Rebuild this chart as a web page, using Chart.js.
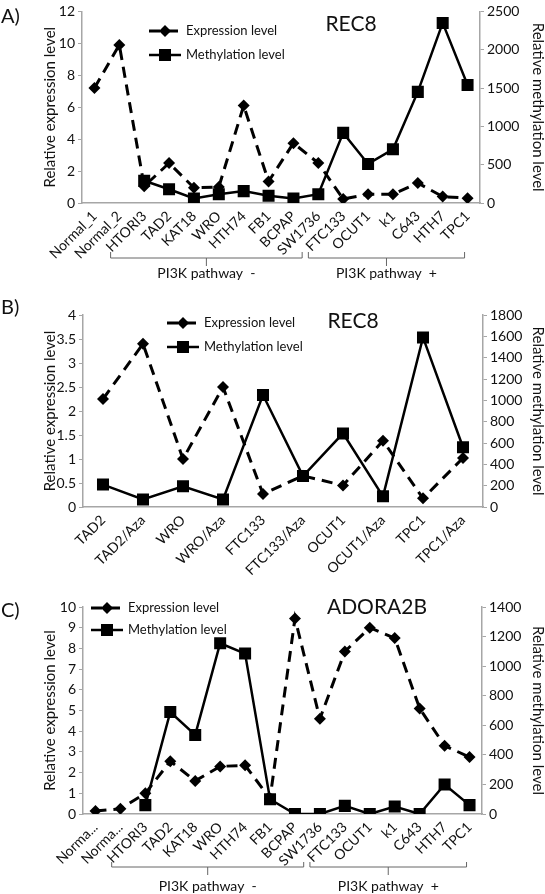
<!DOCTYPE html>
<html>
<head>
<meta charset="utf-8">
<script src="https://cdn.jsdelivr.net/npm/chart.js@4.4.1/dist/chart.umd.min.js"></script>
<style>
  html, body { margin: 0; padding: 0; background: #fff; }
  #fig { position: relative; width: 545px; height: 894px; font-family: Lato, "Open Sans", sans-serif; color: #111; }
  .panel { position: absolute; left: 0; }
  .tag { position: absolute; left: 1px; font-size: 20px; line-height: 20px; }
</style>
</head>
<body>
<div id="fig">
  <canvas id="chartA" class="panel" width="545" height="290" style="top:0px"></canvas>
  <canvas id="chartB" class="panel" width="545" height="295" style="top:290px"></canvas>
  <canvas id="chartC" class="panel" width="545" height="309" style="top:585px"></canvas>
  <div class="tag" style="top:5px">A)</div>
  <div class="tag" style="top:296px">B)</div>
  <div class="tag" style="top:599px">C)</div>
</div>
<script>
const FONT = 'Lato, "Open Sans", sans-serif';
const AXIS = '#a6a6a6';
const INK = '#111';

// cell lines used in panels A and C
const cellLines = ['Normal_1', 'Normal_2', 'HTORI3', 'TAD2', 'KAT18', 'WRO', 'HTH74', 'FB1', 'BCPAP',
  'SW1736', 'FTC133', 'OCUT1', 'k1', 'C643', 'HTH7', 'TPC1'];
// panel B: untreated / 5-Aza treated
const azaLines = ['TAD2', 'TAD2/Aza', 'WRO', 'WRO/Aza', 'FTC133', 'FTC133/Aza', 'OCUT1', 'OCUT1/Aza', 'TPC1', 'TPC1/Aza'];

// A) REC8
const expA = [7.2, 9.9, 1.05, 2.5, 0.95, 1.0, 6.1, 1.35, 3.75, 2.5, 0.25, 0.55, 0.55, 1.25, 0.4, 0.3];
const methA = [null, null, 290, 180, 60, 115, 155, 95, 60, 115, 915, 510, 700, 1450, 2350, 1540];
// B) REC8 with Aza
const expB = [2.25, 3.4, 1.0, 2.5, 0.27, 0.65, 0.45, 1.38, 0.18, 1.02];
const methB = [210, 70, 195, 70, 1050, 290, 690, 100, 1590, 560];
// C) ADORA2B
const expC = [0.15, 0.25, 1.0, 2.55, 1.6, 2.3, 2.35, 0.75, 9.45, 4.6, 7.85, 9.0, 8.5, 5.1, 3.3, 2.75];
const methC = [null, null, 60, 690, 535, 1155, 1085, 100, 0, 0, 55, 0, 50, 0, 200, 60];

// axis ranges: [min, max, step]
const expAxisA = [0, 12, 2], methAxisA = [0, 2500, 500];
const expAxisB = [0, 4, 0.5], methAxisB = [0, 1800, 200];
const expAxisC = [0, 10, 1], methAxisC = [0, 1400, 200];

// pathway brackets under the cell line labels (in category units)
const pathwayGroups = [
  { from: 0.65, to: 8.35, text: 'PI3K pathway  -' },
  { from: 8.6, to: 14.88, text: 'PI3K pathway  +' }
];

const decor = {
  id: 'decor',
  afterDraw(chart, args, o) {
    const ctx = chart.ctx;
    const area = chart.chartArea;
    ctx.save();
    ctx.fillStyle = INK;
    ctx.textBaseline = 'middle';
    ctx.font = `21px ${FONT}`;
    ctx.textAlign = 'center';
    ctx.fillText(o.title, o.titleX, o.titleY);

    chart.data.datasets.forEach((ds, i) => {
      const y = o.legendY + i * o.legendGap;
      const x0 = o.legendX, x1 = o.legendX + 32;
      ctx.strokeStyle = ds.borderColor;
      ctx.lineWidth = ds.borderWidth;
      ctx.setLineDash(ds.borderDash || []);
      ctx.beginPath();
      ctx.moveTo(x0, y);
      ctx.lineTo(x1, y);
      ctx.stroke();
      ctx.setLineDash([]);
      ctx.fillStyle = ds.backgroundColor;
      Chart.helpers.drawPoint(ctx, { pointStyle: ds.pointStyle, radius: ds.pointRadius, borderWidth: 0 }, (x0 + x1) / 2, y);
      ctx.fillStyle = INK;
      ctx.font = `13px ${FONT}`;
      ctx.textAlign = 'left';
      ctx.fillText(ds.label, x1 + 5, y);
    });

    if (o.groups) {
      const xs = chart.scales.x;
      const b = area.bottom;
      ctx.strokeStyle = '#666';
      ctx.lineWidth = 1;
      o.groups.forEach(g => {
        const l = xs.getPixelForValue(g.from), r = xs.getPixelForValue(g.to);
        const m = (l + r) / 2;
        ctx.beginPath();
        ctx.moveTo(l, b + o.hook);
        ctx.lineTo(l, b + o.line);
        ctx.lineTo(r, b + o.line);
        ctx.lineTo(r, b + o.hook);
        ctx.moveTo(m, b + o.line);
        ctx.lineTo(m, b + o.tick);
        ctx.stroke();
        ctx.font = `14px ${FONT}`;
        ctx.textAlign = 'center';
        ctx.fillText(g.text, m, b + o.text);
      });
    }
    ctx.restore();
  }
};

const plain = v => String(v);

function makeChart(id, labels, exp, meth, expAxis, methAxis, lay, deco) {
  return new Chart(document.getElementById(id), {
    type: 'line',
    data: {
      labels: labels,
      datasets: [{
        label: 'Expression level',
        data: exp,
        yAxisID: 'y',
        borderColor: '#000',
        backgroundColor: '#000',
        borderWidth: 3,
        borderDash: [11, 7],
        pointStyle: 'rectRot',
        pointRadius: 6,
        pointBorderWidth: 0,
        tension: 0
      }, {
        label: 'Methylation level',
        data: meth,
        yAxisID: 'y1',
        borderColor: '#000',
        backgroundColor: '#000',
        borderWidth: 2.5,
        pointStyle: 'rect',
        pointRadius: 8.5,
        pointBorderWidth: 0,
        tension: 0
      }]
    },
    options: {
      responsive: false,
      animation: false,
      layout: { autoPadding: false, padding: { top: lay.top, left: 0, right: 0, bottom: 0 } },
      plugins: { legend: { display: false }, tooltip: { enabled: false }, decor: deco },
      scales: {
        x: {
          offset: true,
          grid: { display: false, drawTicks: false },
          border: { color: AXIS, width: 1.5 },
          ticks: {
            color: INK, font: { family: FONT, size: 14 }, minRotation: 45, maxRotation: 45,
            autoSkip: false, padding: 5,
            callback(v) { const s = this.getLabelForValue(v); return lay.trim && s.length > 7 ? s.slice(0, 5) + '...' : s; }
          },
          afterFit(s) { s.height = lay.xh; }
        },
        y: {
          position: 'left',
          min: expAxis[0], max: expAxis[1],
          ticks: { stepSize: expAxis[2], color: INK, font: { family: FONT, size: 14 }, padding: 3, callback: plain },
          grid: { drawOnChartArea: false, color: AXIS, tickLength: 4 },
          border: { color: AXIS, width: 1.5 },
          title: { display: true, text: 'Relative expression level', color: INK,
            font: { family: FONT, size: 15, lineHeight: 1 }, padding: { top: 43, bottom: 0 } },
          afterFit(s) { s.width = lay.lw; }
        },
        y1: {
          position: 'right',
          min: methAxis[0], max: methAxis[1],
          ticks: { stepSize: methAxis[2], color: INK, font: { family: FONT, size: 14 }, padding: 3, callback: plain },
          grid: { drawOnChartArea: false, color: AXIS, tickLength: 4 },
          border: { color: AXIS, width: 1.5 },
          title: { display: true, text: 'Relative methylation level', color: INK,
            font: { family: FONT, size: 15, lineHeight: 1 }, padding: { top: 0, bottom: 0 } },
          afterFit(s) { s.width = lay.rw; }
        }
      }
    },
    plugins: [decor]
  });
}

makeChart('chartA', cellLines, expA, methA, expAxisA, methAxisA,
  { top: 5, xh: 87, lw: 82, rw: 65 },
  { title: 'REC8', titleX: 351, titleY: 24, legendX: 149, legendY: 31, legendGap: 24,
    groups: pathwayGroups, hook: 49, line: 55, tick: 63, text: 70 });

makeChart('chartB', azaLines, expB, methB, expAxisB, methAxisB,
  { top: 25, xh: 78, lw: 83, rw: 62 },
  { title: 'REC8', titleX: 353, titleY: 31, legendX: 167, legendY: 33, legendGap: 24 });

makeChart('chartC', cellLines, expC, methC, expAxisC, methAxisC,
  { top: 22, xh: 80, lw: 83, rw: 63, trim: true },
  { title: 'ADORA2B', titleX: 377, titleY: 22, legendX: 91, legendY: 23, legendGap: 22,
    groups: pathwayGroups, hook: 48, line: 53, tick: 61, text: 72 });
</script>
</body>
</html>
